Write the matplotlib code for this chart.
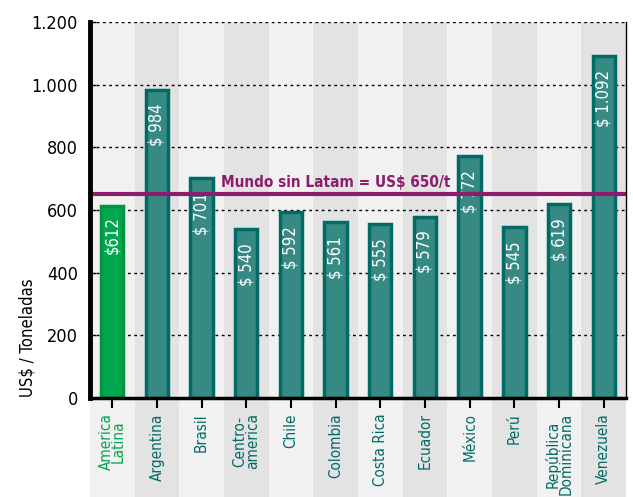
import matplotlib
matplotlib.use("Agg")
import matplotlib.pyplot as plt
import numpy as np

plt.rcParams['font.family'] = ['DejaVu Sans']
plt.rcParams['font.stretch'] = 'condensed'

paises = ["America\nLatina", "Argentina", "Brasil", "Centro-\namerica", "Chile", "Colombia",
          "Costa Rica", "Ecuador", "México", "Perú", "República\nDominicana", "Venezuela"]
precios = [612, 984, 701, 540, 592, 561, 555, 579, 772, 545, 619, 1092]
etiquetas = ["$612", "$ 984", "$ 701", "$ 540", "$ 592", "$ 561", "$ 555", "$ 579",
             "$ 772", "$ 545", "$ 619", "$ 1.092"]
mundo = 650
yticks = [0, 200, 400, 600, 800, 1000, 1200]
ytick_labels = ["0", "200", "400", "600", "800", "1.000", "1.200"]

teal = "#378a84"
teal_edge = "#006b65"
green = "#00a650"
green_edge = "#00953f"
purple = "#8c1c6c"

fig = plt.figure(figsize=(6.33, 4.97), dpi=100)
ax = fig.add_axes([0.142, 0.199, 0.847, 0.757])

x = np.arange(len(paises))
ax.set_xlim(-0.5, len(paises) - 0.5)
ax.set_ylim(0, 1200)

# fondo de columnas, baja hasta la zona de etiquetas
for i in x:
    c = "#f1f1f1" if i % 2 == 0 else "#e3e3e3"
    ax.axvspan(i - 0.5, i + 0.5, ymin=-0.27, ymax=1.0, color=c, zorder=0, clip_on=False, lw=0)

ax.set_yticks(yticks)
ax.set_yticklabels(ytick_labels, fontsize=13)
ax.grid(axis='y', color='black', linestyle=(0, (2, 2.5)), linewidth=1, zorder=1)

colores = [green] + [teal] * (len(paises) - 1)
bordes = [green_edge] + [teal_edge] * (len(paises) - 1)
ax.bar(x, precios, width=0.5, color=colores, edgecolor=bordes, linewidth=2.5, zorder=3)

for xi, v, t in zip(x, precios, etiquetas):
    off = 30 if xi == 0 else 45
    ax.text(xi, v - off, t, rotation=90, ha='center', va='top', color='white',
            fontsize=12, zorder=4)

ax.axhline(mundo, color=purple, linewidth=3, zorder=5)
ax.text(5.0, mundo + 22, "Mundo sin Latam = US$ 650/t", color=purple, fontsize=11,
        fontweight='bold', ha='center', va='baseline', zorder=5)

ax.set_xticks(x)
ax.set_xticklabels(paises, rotation=90, fontsize=11, va='top', ha='center',
                   linespacing=0.8)
for i, lab in enumerate(ax.get_xticklabels()):
    lab.set_color(green if i == 0 else teal_edge)

ax.tick_params(axis='x', length=7, width=1.5, color='black', pad=4)
ax.tick_params(axis='y', direction='in', length=4, width=1, pad=8.5)

ax.set_ylabel("US$ / Toneladas", fontsize=12)
ax.yaxis.set_label_coords(-0.099, 0.16)

ax.spines['top'].set_visible(False)
ax.spines['right'].set_linewidth(1)
ax.spines['left'].set_linewidth(3.5)
ax.spines['bottom'].set_linewidth(2.5)
for s in ax.spines.values():
    s.set_zorder(6)

fig.savefig("out.png", dpi=100)
